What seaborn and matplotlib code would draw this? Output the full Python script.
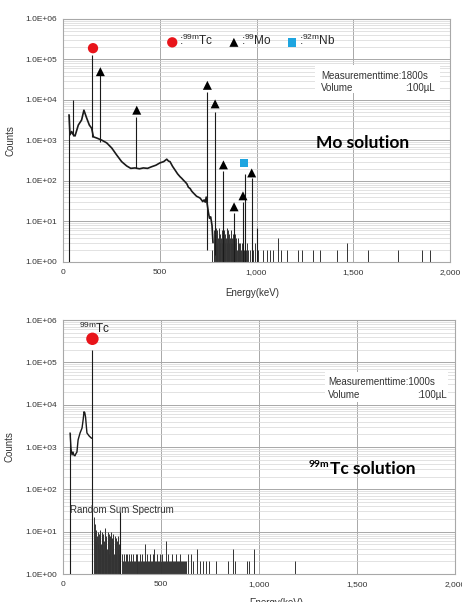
import matplotlib
matplotlib.use("Agg")
import numpy as np
import pandas as pd
import seaborn as sns
import matplotlib.pyplot as plt
from matplotlib.patches import Rectangle
from matplotlib.ticker import FixedLocator, FuncFormatter, LogLocator, NullFormatter

sns.set_theme(style="white")
plt.rcParams["font.family"] = ["Liberation Sans", "DejaVu Sans"]
plt.rcParams["mathtext.fontset"] = "custom"
plt.rcParams["mathtext.rm"] = "Liberation Sans"
plt.rcParams["mathtext.it"] = "Liberation Sans:italic"
plt.rcParams["mathtext.bf"] = "Liberation Sans:bold"

# ---------------- Top panel: Mo solution ----------------
mo_cont_E = [31, 36, 45, 52, 62, 79, 96, 108, 122, 136, 148, 157, 174, 200, 226, 252, 277,
             303, 329, 350, 372, 395, 415, 437, 458, 480, 501, 520, 536, 545, 553, 566, 579,
             592, 605, 613, 622, 631, 640, 648, 657, 665, 673, 682, 690, 699, 708, 716, 722,
             729, 735, 740, 751, 757, 763, 770, 775]
mo_cont_C = [4300, 1380, 1660, 1400, 1290, 2400, 3200, 5600, 3600, 2400, 2000, 1230, 1150,
             1020, 870, 650, 440, 300, 235, 205, 210, 200, 210, 205, 225, 245, 280, 300, 345,
             310, 300, 230, 186, 150, 127, 117, 105, 95, 85, 70, 65, 56, 51, 46, 42, 40, 38,
             34, 31, 34, 30, 40, 17, 12, 13, 8, 3]

mo_peak_E = [31, 52, 150, 191, 378, 746, 786, 829, 884, 930, 940, 975, 1005]
mo_peak_top = [4300, 10000, 130000, 41000, 3800, 16000, 5000, 180, 16, 30, 150, 118, 7]
mo_peak_base = [0.5, 1300, 1200, 900, 210, 2, 1.5, 0.5, 0.5, 0.5, 0.5, 0.5, 0.5]

mo_noise_E = [772, 778, 782, 786, 789, 792, 795, 798, 801, 804, 807, 810, 813, 816, 819, 822,
              826, 830, 833, 836, 839, 842, 845, 848, 851, 854, 857, 860, 863, 866, 869, 872,
              875, 878, 881, 887, 890, 893, 896, 899, 902, 905, 908, 911, 914, 917, 920, 926,
              933, 945, 952, 958, 966, 983, 990, 1009, 1035, 1052, 1069, 1086, 1112, 1129,
              1155, 1216, 1233, 1293, 1328, 1414, 1467, 1578, 1733, 1853, 1897]
mo_noise_C = [2, 3, 6, 4, 7, 5, 3, 6, 4, 5, 7, 3, 5, 4, 6, 3, 5, 4, 6, 3, 5, 4, 7, 3, 4, 6, 3,
              5, 4, 3, 6, 4, 3, 5, 4, 3, 5, 3, 4, 2, 3, 4, 2, 3, 2, 3, 2, 3, 2, 2, 3, 2, 2, 2,
              3, 2, 2, 2, 2, 2, 4, 2, 2, 2, 2, 2, 2, 2, 3, 2, 2, 2, 2]

mo_tc_E, mo_tc_C = [155], [190000]
mo_mo_E = [193, 381, 746, 786, 829, 884, 930, 975]
mo_mo_C = [50000, 5600, 23000, 8000, 250, 23, 43, 158]
mo_nb_E, mo_nb_C = [935], [277]

# ---------------- Bottom panel: 99mTc solution ----------------
tc_cont_E = [36, 41, 46, 51, 56, 61, 66, 71, 77, 87, 97, 103, 107, 111, 115, 122, 133, 143, 148]
tc_cont_C = [2150, 900, 650, 760, 640, 620, 700, 760, 1480, 2150, 2800, 4500, 6800, 6500,
             5100, 2150, 1830, 1650, 1600]

tc_peak_E = [36, 150, 291]
tc_peak_top = [2150, 200000, 29]
tc_peak_base = [0.5, 0.5, 0.5]

tc_noise_E = [158, 161, 164, 167, 170, 173, 176, 179, 182, 185, 188, 191, 194, 197, 200, 203,
              206, 209, 212, 215, 218, 221, 224, 227, 230, 233, 236, 239, 242, 245, 248, 251,
              254, 257, 260, 263, 266, 269, 272, 275, 278, 281, 284, 287, 290,
              300, 305, 310, 315, 320, 325, 330, 335, 340, 345, 350, 355, 360, 365, 370, 375,
              380, 385, 390, 395, 400, 405, 410, 415, 420, 425, 430, 435, 440, 445, 450, 455,
              460, 465, 470, 475, 480, 485, 490, 495, 500, 505, 510, 515, 520, 525, 530, 535,
              540, 545, 550, 555, 560, 565, 570, 575, 580, 585, 590, 595, 600, 605, 610, 615,
              620, 630, 640, 653, 665, 684, 700, 715, 730, 745, 780, 843, 868, 880, 939, 950,
              975, 1184]
tc_noise_C = [22, 15, 10, 6, 11, 8, 5, 10, 4, 9, 7, 11, 5, 8, 10, 4, 9, 6, 12, 5, 8, 7, 4, 10,
              6, 9, 3, 8, 5, 10, 7, 4, 9, 6, 3, 8, 5, 7, 3, 6, 4, 8, 3, 5, 4,
              3, 2, 3, 2, 3, 3, 2, 3, 2, 3, 2, 3, 2, 2, 3, 2, 3, 2, 2, 3, 2, 3, 2, 2, 5, 2,
              3, 2, 2, 3, 2, 2, 3, 4, 2, 2, 3, 2, 2, 3, 2, 3, 2, 2, 2, 6, 2, 3, 2, 2, 2, 3, 2,
              2, 2, 3, 2, 2, 2, 3, 2, 2, 2, 2, 2, 2, 3, 3, 2, 4, 2, 2, 2, 2, 2, 2, 4, 2, 2, 2,
              4, 2]

tc_tc_E, tc_tc_C = [150], [360000]

y_ticks = [1, 10, 100, 1000, 10000, 100000, 1000000]
x_ticks = [0, 500, 1000, 1500, 2000]

fig = plt.figure(figsize=(4.62, 6.02), dpi=100)
ax1 = fig.add_axes([0.1364, 0.5648, 0.8377, 0.4037])
ax2 = fig.add_axes([0.1364, 0.0465, 0.8485, 0.4219])


def style(ax):
    ax.set_yscale("log")
    ax.set_xlim(0, 2000)
    ax.set_ylim(1, 1e6)
    ax.yaxis.set_major_locator(FixedLocator(y_ticks))
    ax.yaxis.set_major_formatter(FuncFormatter(lambda v, p: f"{v:.1E}"))
    ax.yaxis.set_minor_locator(LogLocator(base=10, subs=range(2, 10)))
    ax.yaxis.set_minor_formatter(NullFormatter())
    ax.xaxis.set_major_locator(FixedLocator(x_ticks))
    ax.xaxis.set_major_formatter(FuncFormatter(lambda v, p: f"{int(v):,}"))
    ax.grid(which="minor", axis="y", color="#d6d6d6", lw=0.5)
    ax.grid(which="major", axis="y", color="#a8a8a8", lw=0.7)
    ax.grid(which="major", axis="x", color="#a8a8a8", lw=0.7)
    ax.set_axisbelow(True)
    ax.tick_params(axis="both", which="both", length=0, labelsize=6, colors="#333333")
    ax.tick_params(axis="y", pad=4)
    ax.tick_params(axis="x", pad=5)
    for s in ax.spines.values():
        s.set_color("#a8a8a8")
        s.set_linewidth(0.8)
    ax.set_ylabel("Counts", fontsize=7, color="#333333")
    ax.set_xlabel("Energy(keV)", fontsize=7, color="#333333")


style(ax1)
style(ax2)

line_col = "#1a1a1a"

# Top panel
ax1.vlines(mo_noise_E, 0.5, mo_noise_C, colors="#333333", lw=0.7, zorder=2)
ax1.vlines(mo_peak_E, mo_peak_base, mo_peak_top, colors=line_col, lw=0.8, zorder=3)
sns.lineplot(x=mo_cont_E, y=mo_cont_C, ax=ax1, color=line_col, lw=1.2, sort=False,
             estimator=None, zorder=3)
sns.scatterplot(x=mo_tc_E, y=mo_tc_C, ax=ax1, marker="o", s=55, color="#e8141a",
                edgecolor="none", zorder=5, label=r":$^{\mathrm{99m}}$Tc")
sns.scatterplot(x=mo_mo_E, y=mo_mo_C, ax=ax1, marker="^", s=42, color="black",
                edgecolor="none", zorder=5, label=r":$^{\mathrm{99}}$Mo")
sns.scatterplot(x=mo_nb_E, y=mo_nb_C, ax=ax1, marker="s", s=38, color="#1ea5e0",
                edgecolor="none", zorder=5, label=r":$^{\mathrm{92m}}$Nb")
ax1.legend(loc="center", bbox_to_anchor=(0.485, 0.91), ncol=3, frameon=False, fontsize=8.5,
           handletextpad=0.1, columnspacing=1.2, borderaxespad=0, handlelength=1.0)

ax1.add_patch(Rectangle((0.651, 0.695), 0.323, 0.116, transform=ax1.transAxes,
                        facecolor="white", edgecolor="none", zorder=4))
ax1.text(0.667, 0.765, "Measurementtime:1800s", transform=ax1.transAxes, fontsize=7,
         va="center", ha="left", color="#333333", zorder=6)
ax1.text(0.667, 0.716, "Volume", transform=ax1.transAxes, fontsize=7,
         va="center", ha="left", color="#333333", zorder=6)
ax1.text(0.961, 0.716, ":100µL", transform=ax1.transAxes, fontsize=7,
         va="center", ha="right", color="#333333", zorder=6)
ax1.text(0.773, 0.49, "Mo solution", transform=ax1.transAxes, fontsize=12.5,
         fontweight="bold", family=["Lato", "DejaVu Sans"], va="center", ha="center",
         color="black", zorder=6)
ax1.yaxis.set_label_coords(-0.124, 0.5)
ax1.xaxis.set_label_coords(0.488, -0.107)

# Bottom panel
ax2.vlines(tc_noise_E, 0.5, tc_noise_C, colors="#333333", lw=0.7, zorder=2)
ax2.vlines(tc_peak_E, tc_peak_base, tc_peak_top, colors=line_col, lw=0.8, zorder=3)
sns.lineplot(x=tc_cont_E, y=tc_cont_C, ax=ax2, color=line_col, lw=1.0, sort=False,
             estimator=None, zorder=3)
sns.scatterplot(x=tc_tc_E, y=tc_tc_C, ax=ax2, marker="o", s=80, color="#e8141a",
                edgecolor="none", zorder=5, legend=False)
ax2.text(163, 620000, r"$^{\mathrm{99m}}$Tc", fontsize=8.5, ha="center", va="center",
         color="#222222", zorder=6)
ax2.text(36, 32, "Random Sum Spectrum", fontsize=7, ha="left", va="center",
         color="#333333", zorder=6)

ax2.add_patch(Rectangle((0.668, 0.677), 0.314, 0.118, transform=ax2.transAxes,
                        facecolor="white", edgecolor="none", zorder=4))
ax2.text(0.676, 0.756, "Measurementtime:1000s", transform=ax2.transAxes, fontsize=7,
         va="center", ha="left", color="#333333", zorder=6)
ax2.text(0.676, 0.705, "Volume", transform=ax2.transAxes, fontsize=7,
         va="center", ha="left", color="#333333", zorder=6)
ax2.text(0.98, 0.705, ":100µL", transform=ax2.transAxes, fontsize=7,
         va="center", ha="right", color="#333333", zorder=6)
ax2.text(0.681, 0.413, "Tc solution", transform=ax2.transAxes, fontsize=12.5,
         fontweight="bold", family=["Lato", "DejaVu Sans"], va="center", ha="left",
         color="black", zorder=6)
ax2.text(0.679, 0.43, "99m", transform=ax2.transAxes, fontsize=7.5,
         fontweight="bold", family=["Lato", "DejaVu Sans"], va="center", ha="right",
         color="black", zorder=6)
ax2.yaxis.set_label_coords(-0.124, 0.5)
ax2.xaxis.set_label_coords(0.543, -0.094)

fig.savefig("out.png", dpi=100)
